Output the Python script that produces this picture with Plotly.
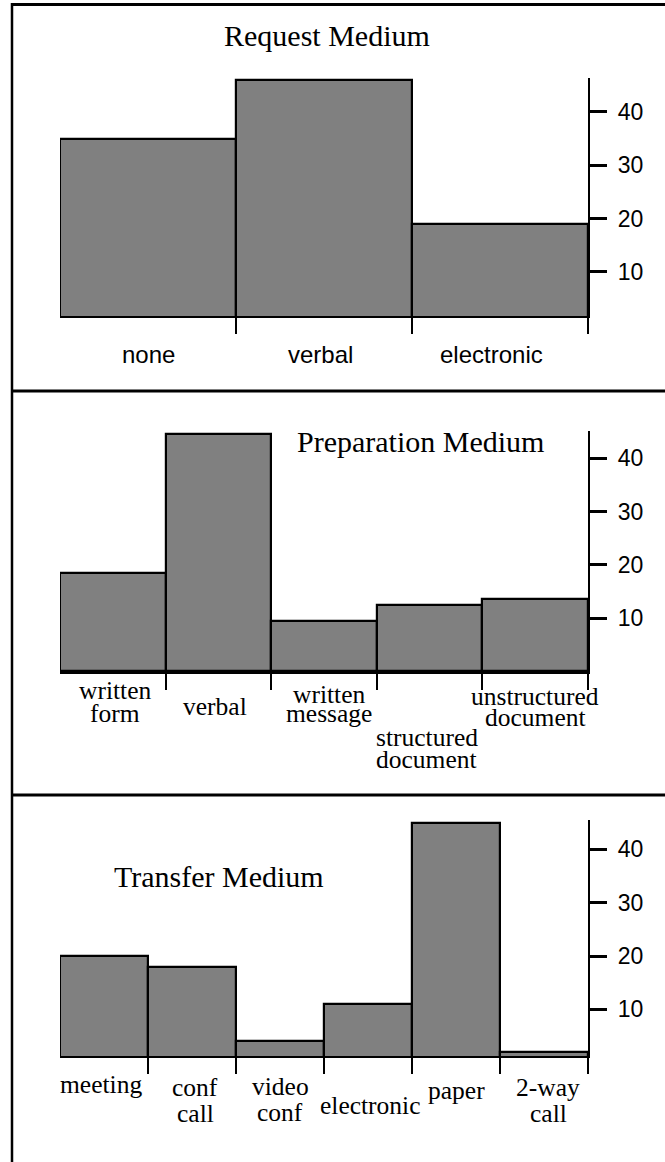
import plotly.graph_objects as go

W, H = 665, 1162

# ---------------- data ----------------
req_cats = ["none", "verbal", "electronic"]
req_vals = [35, 46, 19]

prep_cats = ["written form", "verbal", "written message",
             "structured document", "unstructured document"]
prep_vals = [18.5, 44.5, 9.5, 12.5, 13.5]

trans_cats = ["meeting", "conf call", "video conf", "electronic", "paper", "2-way call"]
trans_vals = [20, 18, 4, 11, 45, 2]

y_tick_vals = [10, 20, 30, 40]
titles = ["Request Medium", "Preparation Medium", "Transfer Medium"]

# ---------------- layout / style ----------------
def py(p):
    return 1 - p / H

def pxr(p):
    return p / W

X_LEFT, X_RIGHT = 60, 588

panels = [
    dict(cats=req_cats, vals=req_vals, top=78, base=316, r=(1.7, 46.35),
         title=titles[0], tx=327, ty=35, xlw=2,
         lab_font=dict(family="Liberation Sans, Arial", size=24, color="black"),
         lab_y=[[355], [355], [355]], lab_dx=[0, -4, -9]),
    dict(cats=prep_cats, vals=prep_vals, top=431, base=670, r=(0.25, 45.1),
         title=titles[1], tx=420, ty=441, xlw=4,
         lab_font=dict(family="Liberation Serif, Times New Roman", size=25.5, color="black"),
         lab_y=[[690, 713], [706], [694, 713], [737, 759], [696, 717]],
         lab_dx=[2, -3, 5, -3, 0]),
    dict(cats=trans_cats, vals=trans_vals, top=820, base=1056, r=(1.25, 45.5),
         title=titles[2], tx=219, ty=876, xlw=2,
         lab_font=dict(family="Liberation Serif, Times New Roman", size=25.5, color="black"),
         lab_y=[[1084], [1087, 1113], [1086, 1112], [1105], [1090], [1087, 1113]],
         lab_dx=[-3, 3, 0, 2, 0, 4]),
]

fig = go.Figure()
annotations = []
shapes = []

for i, p in enumerate(panels):
    sfx = "" if i == 0 else str(i + 1)
    n = len(p["cats"])
    fig.add_trace(go.Bar(
        x=list(range(n)), y=p["vals"], width=1,
        marker=dict(color="#808080", line=dict(color="black", width=2.2)),
        xaxis="x" + sfx, yaxis="y" + sfx, showlegend=False, hoverinfo="skip",
    ))
    fig.update_layout(**{
        "xaxis" + sfx: dict(
            domain=[pxr(X_LEFT), pxr(X_RIGHT)], range=[-0.5, n - 0.5],
            anchor="y" + sfx, showgrid=False, zeroline=False,
            tickmode="array", tickvals=[k + 0.5 for k in range(n)],
            ticks="outside", ticklen=16, tickwidth=2.2, tickcolor="black",
            showticklabels=False, showline=True, linecolor="black",
            linewidth=p["xlw"], fixedrange=True,
        ),
        "yaxis" + sfx: dict(
            domain=[py(p["base"]), py(p["top"])], range=list(p["r"]),
            anchor="x" + sfx, side="right", showgrid=False, zeroline=False,
            tickmode="array", tickvals=y_tick_vals,
            ticks="outside", ticklen=17, tickwidth=3, tickcolor="black",
            showline=True, linecolor="black", linewidth=2.2,
            tickfont=dict(family="Liberation Sans, Arial", size=23, color="black"),
            ticklabelstandoff=6, fixedrange=True,
        ),
    })
    # title
    annotations.append(dict(
        text=p["title"], xref="paper", yref="paper",
        x=pxr(p["tx"]), y=py(p["ty"]), xanchor="center", yanchor="middle",
        showarrow=False,
        font=dict(family="Liberation Serif, Times New Roman", size=30, color="black"),
    ))
    # category labels (each line placed separately for tight leading)
    for k, cat in enumerate(p["cats"]):
        lines = cat.split(" ")
        for line, yc in zip(lines, p["lab_y"][k]):
            annotations.append(dict(
                text=line, xref="x" + sfx, yref="paper",
                x=k, y=py(yc), xshift=p["lab_dx"][k],
                xanchor="center", yanchor="middle", showarrow=False,
                font=p["lab_font"],
            ))

# frame lines
FL = 12
shapes.append(dict(type="line", xref="paper", yref="paper",
                   x0=pxr(FL), x1=pxr(FL), y0=py(3), y1=0,
                   line=dict(color="black", width=2.5)))
for yy in [4.5, 391, 795]:
    shapes.append(dict(type="line", xref="paper", yref="paper",
                       x0=pxr(FL), x1=1, y0=py(yy), y1=py(yy),
                       line=dict(color="black", width=3)))

fig.update_layout(
    width=W, height=H,
    margin=dict(l=0, r=0, t=0, b=0),
    paper_bgcolor="white", plot_bgcolor="white",
    annotations=annotations, shapes=shapes,
    bargap=0,
)

fig.write_html(
    "out.html",
    config={"displayModeBar": False},
    post_script="document.body.style.margin='0';document.body.style.overflow='hidden';",
)
